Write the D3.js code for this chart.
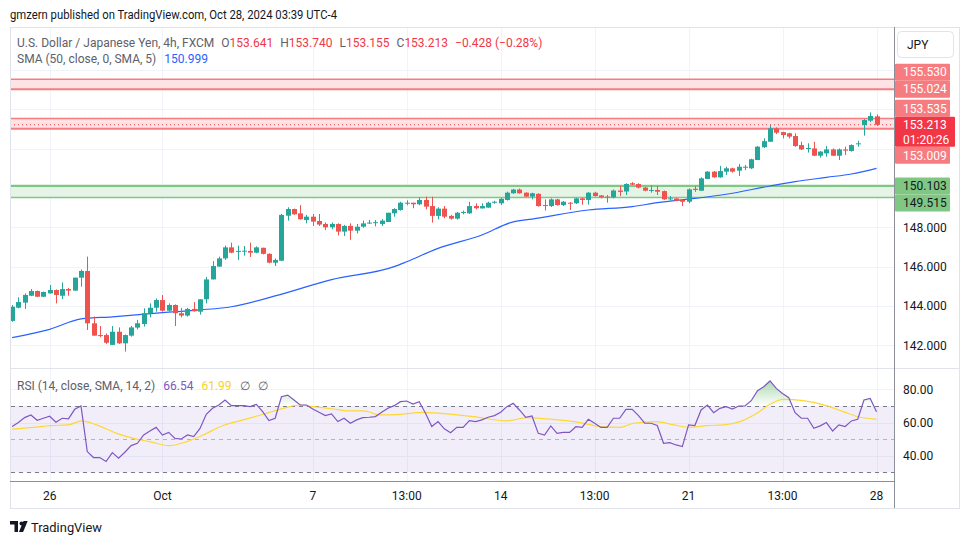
<!DOCTYPE html>
<html><head><meta charset="utf-8">
<script src="https://cdn.jsdelivr.net/npm/d3@7/dist/d3.min.js"></script>
<style>
body{margin:0;background:#fff;}
svg{display:block;font-family:Roboto,"Noto Sans",sans-serif;}
</style></head>
<body><svg id="chart" width="970" height="545"></svg>
<script>
// ---------------- DATA ----------------
const opens=[143.24,143.91,144.17,144.52,144.76,144.47,144.64,144.81,144.52,144.86,
144.78,145.44,145.78,143.12,142.52,142.52,142.02,142.69,142.10,142.49,
142.90,143.08,143.63,143.91,144.30,143.76,144.05,143.63,143.51,143.85,
143.71,144.34,145.35,146.00,146.42,146.98,146.78,146.80,146.80,146.71,
146.96,146.65,146.20,146.30,148.59,148.93,148.71,148.37,148.54,148.32,
148.17,148.00,148.17,147.78,148.07,147.83,148.03,148.20,148.24,148.17,
148.27,148.71,148.88,149.20,149.25,149.17,149.39,149.08,148.58,148.95,
148.58,148.44,148.74,148.71,149.08,148.96,149.00,149.25,149.22,149.39,
149.73,149.92,149.76,149.56,149.70,149.13,149.08,149.42,149.13,149.25,
149.22,149.47,149.39,149.76,149.62,149.56,149.52,149.87,149.82,150.24,
150.20,150.02,149.86,149.90,149.84,149.42,149.47,149.39,149.30,149.96,
149.86,150.46,150.83,150.54,150.83,151.00,150.88,151.05,151.00,151.42,
152.07,152.35,153.03,152.84,152.78,152.64,152.18,151.98,152.01,151.64,
151.76,151.96,151.64,151.96,151.88,152.22,153.20,153.42,153.641];
const highs=[144.05,144.44,144.64,144.86,144.78,144.73,145.07,144.84,145.20,144.92,
145.44,145.85,146.51,143.46,142.98,142.60,142.98,142.91,142.55,142.98,
143.29,143.88,144.13,144.38,144.56,144.13,144.08,143.90,143.90,144.20,
144.34,145.48,146.28,146.51,147.07,147.22,147.07,147.05,147.22,147.03,
146.96,146.68,146.42,148.68,149.02,148.95,149.13,148.63,148.68,148.68,
148.25,148.24,148.20,148.12,148.20,148.17,148.34,148.37,148.37,148.42,
148.74,148.97,149.30,149.37,149.25,149.52,149.56,149.56,149.02,149.08,
148.63,148.78,148.85,149.30,149.22,149.22,149.30,149.35,149.50,149.81,
149.95,149.97,149.78,149.76,149.73,149.42,149.47,149.45,149.33,149.28,
149.50,149.50,149.79,149.81,149.64,149.64,149.92,150.10,150.24,150.30,
150.24,150.05,150.13,150.10,149.87,149.59,149.47,149.42,149.98,150.10,
150.54,150.86,150.86,151.12,151.08,151.03,151.22,151.17,151.49,152.13,
152.52,153.20,153.08,152.86,152.81,152.78,152.35,152.27,152.35,151.88,
152.13,152.01,152.01,152.10,152.22,152.40,153.50,153.84,153.740];
const lows=[143.20,143.88,143.85,144.50,144.45,144.45,144.62,144.13,144.35,144.52,
144.78,144.98,142.78,142.49,142.41,142.07,142.02,142.07,141.68,142.44,
142.81,142.95,143.42,143.71,143.71,143.71,142.98,143.42,143.46,143.71,
143.56,144.13,145.35,146.00,146.34,146.68,146.34,146.56,146.49,146.68,
146.62,146.17,146.03,146.28,148.34,148.64,148.39,148.20,148.07,148.07,
147.86,147.90,147.58,147.56,147.36,147.69,147.98,148.17,148.05,148.07,
148.27,148.54,148.85,149.12,148.97,149.12,148.91,148.24,148.41,148.46,
148.39,148.39,148.66,148.68,148.91,148.96,149.00,149.20,149.13,149.36,
149.71,149.71,149.54,149.42,149.05,148.85,149.03,149.10,149.08,148.88,
149.18,149.15,149.15,149.56,149.47,149.25,149.47,149.59,149.64,150.14,
149.98,149.83,149.76,149.64,149.40,149.36,149.33,149.08,149.22,149.80,
149.86,150.46,150.52,150.52,150.66,150.78,150.61,150.91,150.96,151.42,
152.03,152.35,152.74,152.52,152.52,152.10,151.93,151.80,151.62,151.54,
151.59,151.62,151.42,151.68,151.85,152.10,152.66,153.35,153.155];
const closes=[143.96,144.20,144.56,144.76,144.47,144.71,144.81,144.56,144.86,144.78,
145.44,145.78,143.12,142.49,142.47,142.13,142.69,142.10,142.52,142.91,
143.12,143.63,143.91,144.30,143.76,144.05,143.63,143.51,143.85,143.73,
144.34,145.35,146.03,146.42,146.98,146.71,146.80,146.81,146.71,146.98,
146.65,146.20,146.34,148.63,148.93,148.66,148.41,148.54,148.29,148.14,
148.00,148.17,147.78,148.07,147.83,148.03,148.20,148.24,148.26,148.34,
148.74,148.93,149.25,149.25,149.17,149.39,149.05,148.58,148.95,148.54,
148.44,148.74,148.78,149.08,148.97,149.08,149.25,149.30,149.45,149.76,
149.92,149.73,149.56,149.73,149.08,149.08,149.42,149.13,149.30,149.20,
149.47,149.39,149.76,149.59,149.52,149.52,149.87,149.80,150.20,150.17,
150.02,149.86,149.90,149.81,149.42,149.47,149.36,149.30,149.93,149.90,
150.49,150.83,150.54,150.86,151.00,150.83,151.08,151.08,151.46,152.10,
152.38,153.03,152.81,152.69,152.61,152.13,151.96,152.03,151.64,151.85,
151.96,151.64,151.96,151.90,152.18,152.27,153.46,153.66,153.213];

// SMA(50) read at candle indices [index, value]
const smaPoints=[[0,142.39],[6,142.81],[11,143.34],[16,143.45],[24,143.66],[30,143.80],
[35,143.96],[42,144.51],[51,145.34],[61,146.00],[63,146.25],[68,146.93],[75,147.61],
[80,148.28],[83,148.42],[92,148.88],[99,149.05],[103,149.25],[109,149.47],[114,149.68],
[121,150.10],[125,150.32],[130,150.54],[134,150.71],[138,150.999]];

const rsiValues=[57.6,60.0,63.0,64.6,61.4,62.6,63.8,60.2,62.6,62.2,
68.0,70.0,42.5,38.9,38.9,36.5,41.9,38.5,42.1,46.1,
47.5,52.5,54.9,57.1,52.5,54.1,50.5,50.1,52.5,51.5,
56.5,65.0,68.6,70.6,73.6,70.2,70.2,70.2,69.6,71.0,
66.6,61.2,62.6,75.6,76.6,73.6,70.6,70.6,68.2,66.2,
64.2,65.2,60.6,62.6,59.6,61.6,63.0,63.2,63.6,66.2,
68.6,70.2,72.6,73.0,71.2,72.6,65.6,57.6,60.6,56.2,
53.9,57.1,57.1,61.2,60.6,61.6,63.2,64.2,66.2,69.6,
71.6,67.6,63.2,64.0,53.5,52.5,58.0,53.5,54.1,54.1,
57.5,57.1,62.0,59.6,57.1,57.1,62.6,62.6,68.0,68.0,
64.2,59.6,59.6,58.2,47.5,47.9,46.5,45.5,58.6,58.2,
67.6,70.6,66.0,68.6,69.6,68.2,70.0,70.0,73.2,79.2,
81.6,85.1,80.6,77.6,75.0,66.0,62.6,62.6,56.5,58.0,
60.0,54.9,58.6,57.6,61.0,62.0,73.6,74.6,66.54];

const rsiSmaPoints=[[0,56.1],[3.4,57.1],[6.1,58.2],[9,58.6],[11.1,61.0],[13.5,58.6],[16.7,53.5],
[19.4,50.5],[22,48.5],[25,46.1],[27.9,48.5],[30.5,52.5],[33.7,58.2],[36.9,61.6],[40.1,65.0],
[43.3,68.6],[46,70.6],[48.1,69.6],[51.3,68.2],[54,67.0],[56.1,67.0],[58.8,64.6],[62,65.0],
[65.7,66.2],[68.3,65.6],[73.7,63.6],[79,61.0],[82.2,63.0],[85.4,62.2],[90.7,60.0],[93.9,57.6],
[97.1,57.1],[99.2,59.6],[102.9,60.6],[105.6,58.6],[108.3,57.1],[110.9,58.2],[113.6,58.6],
[116.2,60.6],[118.9,65.6],[121,71.0],[123.1,74.0],[126.3,73.2],[130,70.2],[132.7,66.6],
[135.4,63.2],[138,61.99]];

const timeTickIdx=[6,24,48,63,78,93,108,123,138];
const timeTickLabels=["26","Oct","7","13:00","14","13:00","21","13:00","28"];
const priceTicks=[142,144,146,148,150,152,154,156];
const rsiTicks=[40,60,80];
const rsiLevels=[70,50,30];
const resistanceBands=[[155.024,155.530],[153.009,153.535]];
const supportBands=[[149.515,150.103]];
const lastPrice=153.213, smaLast=150.999, rsiLast=66.54, rsiSmaLast=61.99;
const countdown="01:20:26";

// ---------------- LAYOUT ----------------
const W=970,H=545;
const L=10, R=894, FR=959, TOP=27, MAINB=368, RSIB=481, AXB=508;
const UP="#26a69a", DN="#ef5350";
const svg=d3.select("#chart");
svg.append("rect").attr("width",W).attr("height",H).attr("fill","#fff");

const N=opens.length;
const x=d3.scaleLinear().domain([0,N-1]).range([12.1,876.5]);
const y=d3.scaleLinear().domain([142,148]).range([345.3,227.3]);
const yr=d3.scaleLinear().domain([30,70]).range([472.3,406]);

// header
svg.append("text").attr("x",10).attr("y",19).attr("font-size",12.5).attr("fill","#131722")
  .attr("textLength",327).attr("lengthAdjust","spacingAndGlyphs")
  .text("gmzern published on TradingView.com, Oct 28, 2024 03:39 UTC-4");

// frame
svg.append("rect").attr("x",L+0.5).attr("y",TOP+0.5).attr("width",FR-L).attr("height",AXB-TOP)
  .attr("fill","none").attr("stroke","#e0e3eb");

const defs=svg.append("defs");
defs.append("clipPath").attr("id","mainClip").append("rect").attr("x",L+1).attr("y",TOP+1).attr("width",R-L-1).attr("height",MAINB-TOP-1);
defs.append("clipPath").attr("id","obClip").append("rect").attr("x",L+1).attr("y",MAINB).attr("width",R-L-1).attr("height",yr(70)-MAINB);
const grad=defs.append("linearGradient").attr("id","obGrad").attr("gradientUnits","userSpaceOnUse")
  .attr("x1",0).attr("x2",0).attr("y1",yr(100)).attr("y2",yr(70));
grad.append("stop").attr("offset","0").attr("stop-color","#4caf50").attr("stop-opacity",0.9);
grad.append("stop").attr("offset","1").attr("stop-color","#4caf50").attr("stop-opacity",0.0);

// grid
const grid=svg.append("g");
grid.selectAll("line.v").data(timeTickIdx).join("line")
  .attr("x1",d=>Math.round(x(d))+0.5).attr("x2",d=>Math.round(x(d))+0.5)
  .attr("y1",TOP+1).attr("y2",RSIB).attr("stroke","#f0f3fa");
grid.selectAll("line.h").data(priceTicks).join("line")
  .attr("x1",L+1).attr("x2",R).attr("y1",d=>Math.round(y(d))+0.5).attr("y2",d=>Math.round(y(d))+0.5)
  .attr("stroke","#f0f3fa");
grid.selectAll("line.hr").data(rsiTicks).join("line")
  .attr("x1",L+1).attr("x2",R).attr("y1",d=>Math.round(yr(d))+0.5).attr("y2",d=>Math.round(yr(d))+0.5)
  .attr("stroke","#f0f3fa");

// main pane
const main=svg.append("g").attr("clip-path","url(#mainClip)");
resistanceBands.forEach(([a,b])=>{
  main.append("rect").attr("x",L).attr("width",R-L).attr("y",y(b)).attr("height",y(a)-y(b)).attr("fill","#fde3e4");
  main.append("line").attr("x1",L).attr("x2",R).attr("y1",y(b)).attr("y2",y(b)).attr("stroke","#f77c80").attr("stroke-width",1.6);
  main.append("line").attr("x1",L).attr("x2",R).attr("y1",y(a)).attr("y2",y(a)).attr("stroke","#f77c80").attr("stroke-width",2);
});
supportBands.forEach(([a,b])=>{
  main.append("rect").attr("x",L).attr("width",R-L).attr("y",y(b)).attr("height",y(a)-y(b)).attr("fill","#e6f4e7");
  main.append("line").attr("x1",L).attr("x2",R).attr("y1",y(b)).attr("y2",y(b)).attr("stroke","#81c784").attr("stroke-width",2.2);
  main.append("line").attr("x1",L).attr("x2",R).attr("y1",y(a)).attr("y2",y(a)).attr("stroke","#81c784").attr("stroke-width",1.4);
});
main.append("line").attr("x1",L).attr("x2",R).attr("y1",y(lastPrice)).attr("y2",y(lastPrice))
  .attr("stroke","#f23645").attr("stroke-dasharray","1,3");

main.append("path").datum(smaPoints).attr("fill","none").attr("stroke","#2962ff").attr("stroke-width",1.2)
  .attr("d",d3.line().x(d=>x(d[0])).y(d=>y(d[1])).curve(d3.curveMonotoneX));

const idx=d3.range(N);
const cg=main.append("g");
cg.selectAll("line").data(idx).join("line")
  .attr("x1",i=>Math.round(x(i))+0.5).attr("x2",i=>Math.round(x(i))+0.5)
  .attr("y1",i=>y(highs[i])).attr("y2",i=>y(lows[i]))
  .attr("stroke",i=>closes[i]>=opens[i]?UP:DN).attr("stroke-width",1);
cg.selectAll("rect").data(idx).join("rect")
  .attr("x",i=>Math.round(x(i))-2).attr("width",5)
  .attr("y",i=>y(Math.max(opens[i],closes[i])))
  .attr("height",i=>Math.max(1,Math.abs(y(opens[i])-y(closes[i]))))
  .attr("fill",i=>closes[i]>=opens[i]?UP:DN);

// pane separator
svg.append("line").attr("x1",L).attr("x2",FR).attr("y1",MAINB+0.5).attr("y2",MAINB+0.5).attr("stroke","#e0e3eb");

// RSI pane
const rp=svg.append("g");
rp.append("rect").attr("x",L+1).attr("width",R-L-1).attr("y",yr(70)).attr("height",yr(30)-yr(70)).attr("fill","rgba(126,87,194,0.1)");
rsiLevels.forEach(v=>{
  rp.append("line").attr("x1",L+1).attr("x2",R).attr("y1",Math.round(yr(v))+0.5).attr("y2",Math.round(yr(v))+0.5)
    .attr("stroke",v===50?"#b2b5be":"#787b86").attr("stroke-dasharray","4,4");
});
rp.append("path").datum(rsiValues).attr("clip-path","url(#obClip)").attr("fill","url(#obGrad)")
  .attr("d",d3.area().x((d,i)=>x(i)).y0(yr(70)).y1(d=>yr(d)));
rp.append("path").datum(rsiSmaPoints).attr("fill","none").attr("stroke","#fdd835").attr("stroke-width",1.2)
  .attr("d",d3.line().x(d=>x(d[0])).y(d=>yr(d[1])).curve(d3.curveMonotoneX));
rp.append("path").datum(rsiValues).attr("fill","none").attr("stroke","#7e57c2").attr("stroke-width",1.2)
  .attr("d",d3.line().x((d,i)=>x(i)).y(d=>yr(d)));

// axes lines
svg.append("line").attr("x1",R+0.5).attr("x2",R+0.5).attr("y1",TOP).attr("y2",AXB).attr("stroke","#8c8f99");
svg.append("line").attr("x1",L).attr("x2",R+0.5).attr("y1",RSIB+0.5).attr("y2",RSIB+0.5).attr("stroke","#8c8f99");

// price tags on the axis, with collision avoidance around the last-price tag
const fmt3=d3.format(".3f"), fmt2=d3.format(".2f");
const TAG_H=17;
const lastY=y(lastPrice);
const lastTop=lastY-8, lastBot=lastY+22;
const levels=[];
resistanceBands.forEach(b=>b.forEach(v=>levels.push({v,fill:"#f77c80",txt:"#fff"})));
supportBands.forEach(b=>b.forEach(v=>levels.push({v,fill:"#81c784",txt:"#131722"})));
const above=levels.filter(d=>d.v>lastPrice).sort((a,b)=>a.v-b.v);
const below=levels.filter(d=>d.v<lastPrice).sort((a,b)=>b.v-a.v);
let edge=lastTop;
above.forEach(d=>{d.cy=Math.min(y(d.v),edge-TAG_H/2); edge=d.cy-TAG_H/2;});
edge=lastBot;
below.forEach(d=>{d.cy=Math.max(y(d.v),edge+TAG_H/2); edge=d.cy+TAG_H/2;});
const boxes=[...above,...below].map(d=>[d.cy-TAG_H/2,d.cy+TAG_H/2]).concat([[lastTop,lastBot]]);
const freeOfTags=v=>boxes.every(([a,b])=>y(v)+7<a||y(v)-7>b);

// price axis labels (hidden where a tag covers them)
svg.append("g").selectAll("text").data(priceTicks.filter(d=>y(d)>TOP+8&&y(d)<MAINB-6&&freeOfTags(d))).join("text")
  .attr("x",903).attr("y",d=>y(d)+4.3).attr("font-size",12).attr("fill","#131722").text(d=>fmt3(d));
svg.append("g").selectAll("text").data(rsiTicks).join("text")
  .attr("x",903).attr("y",d=>yr(d)+4.3).attr("font-size",12).attr("fill","#131722").text(d=>fmt2(d));

// time axis labels
svg.append("g").selectAll("text").data(timeTickIdx).join("text")
  .attr("x",d=>x(d)).attr("y",500).attr("text-anchor","middle").attr("font-size",12).attr("fill","#131722")
  .text((d,i)=>timeTickLabels[i]);

const tags=svg.append("g");
[...above,...below].forEach(d=>{
  tags.append("rect").attr("x",R+1).attr("y",d.cy-TAG_H/2).attr("width",55).attr("height",TAG_H).attr("rx",1).attr("fill",d.fill);
  tags.append("text").attr("x",903).attr("y",d.cy+4.3).attr("font-size",12).attr("fill",d.txt).text(fmt3(d.v));
});
tags.append("rect").attr("x",R+1).attr("y",lastTop).attr("width",60).attr("height",lastBot-lastTop).attr("rx",1).attr("fill","#f23645");
tags.append("text").attr("x",903).attr("y",lastY+4.3).attr("font-size",12).attr("fill","#fff").text(fmt3(lastPrice));
tags.append("text").attr("x",903).attr("y",lastY+19).attr("font-size",12).attr("fill","#fff").text(countdown);

// currency button
svg.append("rect").attr("x",897.5).attr("y",31.5).attr("width",56).attr("height",26).attr("rx",4)
  .attr("fill","#fff").attr("stroke","#e0e3eb");
svg.append("text").attr("x",907).attr("y",48.5).attr("font-size",12).attr("fill","#131722").text("JPY");

// legends (laid out left to right by measured width)
function row(xp,yp,parts,size){
  let cx=xp;
  parts.forEach(p=>{
    const t=svg.append("text").attr("x",cx+(p.gap||0)).attr("y",yp).attr("font-size",size);
    (p.spans).forEach(s=>t.append("tspan").attr("fill",s[1]).text(s[0]));
    cx=cx+(p.gap||0)+t.node().getComputedTextLength();
  });
}
const G="#5d606b", RED="#f23645";
const chg=closes[N-1]-opens[N-1];
row(17,46.5,[
  {spans:[["U.S. Dollar / Japanese Yen, 4h, FXCM",G]]},
  {gap:7,spans:[["O",G],[fmt3(opens[N-1]),RED]]},
  {gap:7,spans:[["H",G],[fmt3(highs[N-1]),RED]]},
  {gap:7,spans:[["L",G],[fmt3(lows[N-1]),RED]]},
  {gap:7,spans:[["C",G],[fmt3(closes[N-1]),RED]]},
  {gap:7,spans:[["\u2212"+fmt3(Math.abs(chg))+" (\u2212"+fmt2(Math.abs(chg)/opens[N-1]*100)+"%)",RED]]}
],12);
row(17,63,[
  {spans:[["SMA (50, close, 0, SMA, 5)",G]]},
  {gap:8,spans:[[fmt3(smaLast),"#2962ff"]]}
],12);
row(17,389.5,[
  {spans:[["RSI (14, close, SMA, 14, 2)",G]]},
  {gap:8,spans:[[fmt2(rsiLast),"#7e57c2"]]},
  {gap:8,spans:[[fmt2(rsiSmaLast),"#f5d328"]]},
  {gap:8,spans:[["\u2205",G]]},
  {gap:8,spans:[["\u2205",G]]}
],12);

// footer logo
const lg=svg.append("g").attr("fill","#131722");
lg.append("path").attr("d","M10 521 h8 v11 h-3.5 v-7.5 h-4.5 z");
lg.append("circle").attr("cx",21.5).attr("cy",523.5).attr("r",2);
lg.append("path").attr("d","M23.5 521 h4.2 l-4.6 11 h-4.2 z");
svg.append("text").attr("x",31).attr("y",532).attr("font-size",13.5).attr("fill","#131722")
  .attr("textLength",71).attr("lengthAdjust","spacingAndGlyphs").text("TradingView");
</script></body></html>
